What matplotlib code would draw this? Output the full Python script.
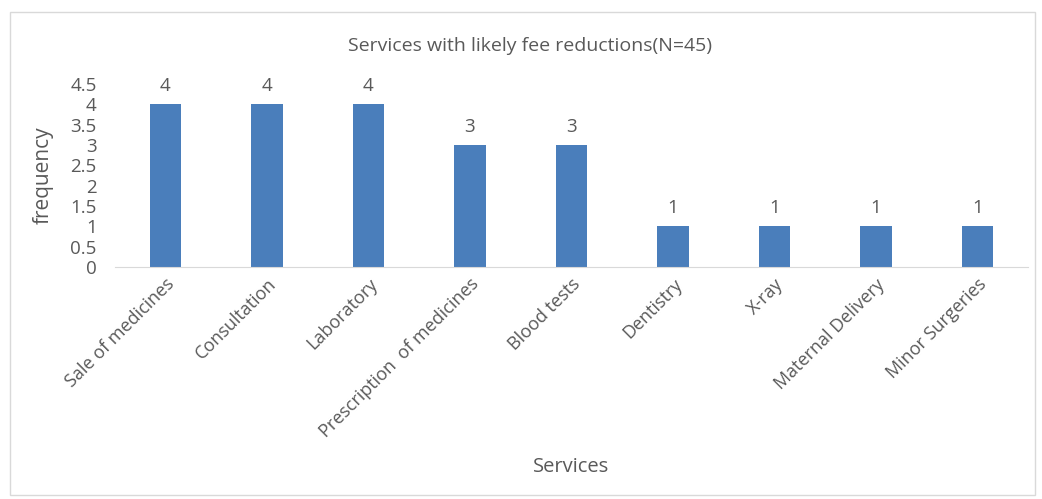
import matplotlib.pyplot as plt
from matplotlib.patches import Rectangle

# data
services = ["Sale of medicines", "Consultation", "Laboratory",
            "Prescription  of medicines", "Blood tests", "Dentistry",
            "X-ray", "Maternal Delivery", "Minor Surgeries"]
freq = [4, 4, 4, 3, 3, 1, 1, 1, 1]
yticks = [0, 0.5, 1, 1.5, 2, 2.5, 3, 3.5, 4, 4.5]

plt.rcParams['font.family'] = ['Open Sans', 'DejaVu Sans']
txt = '#595959'
bar_col = '#4a7ebb'

fig = plt.figure(figsize=(10.42, 4.99), dpi=100)
ax = fig.add_axes([0.110, 0.465, 0.877, 0.367])

# outer chart border
fig.patches.append(Rectangle((0.010, 0.008), 0.983, 0.968, transform=fig.transFigure,
                             fill=False, edgecolor='#d9d9d9', linewidth=1))

x = range(len(services))
bars = ax.bar(x, freq, width=0.31, color=bar_col)
for b, v in zip(bars, freq):
    ax.text(b.get_x() + b.get_width() / 2, v + 0.22, str(v), ha='center', va='bottom',
            fontsize=13.5, color=txt)

ax.set_xlim(-0.5, len(services) - 0.5)
ax.set_ylim(0, 4.5)
ax.set_yticks(yticks)
ax.set_yticklabels([f"{t:g}" for t in yticks], fontsize=13.5, color=txt)
ax.set_xticks(list(x))
ax.set_xticklabels(services, rotation=45, ha='right', rotation_mode='anchor',
                   fontsize=13, color=txt)
ax.tick_params(axis='both', length=0)
ax.tick_params(axis='y', pad=13)
ax.tick_params(axis='x', pad=6)

for s in ['top', 'right', 'left']:
    ax.spines[s].set_visible(False)
ax.spines['bottom'].set_color('#d9d9d9')

ax.set_ylabel("frequency", fontsize=15, color=txt, labelpad=12)
fig.text(0.548, 0.064, "Services", ha='center', va='center', fontsize=14.5, color=txt)
fig.text(0.509, 0.908, "Services with likely fee reductions(N=45)", ha='center',
         va='center', fontsize=14, color=txt)

fig.savefig("out.png", dpi=100)
